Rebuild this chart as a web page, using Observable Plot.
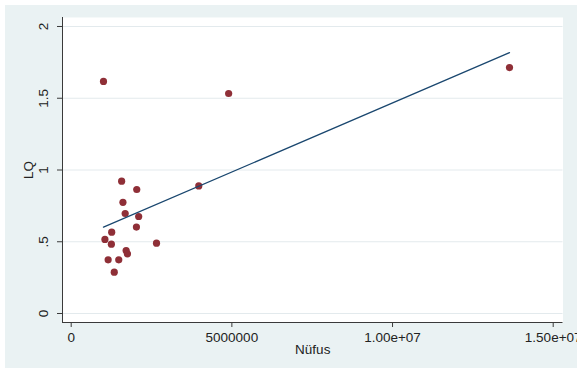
<!DOCTYPE html>
<html>
<head>
<meta charset="utf-8">
<script src="https://cdn.jsdelivr.net/npm/d3@7"></script>
<script src="https://cdn.jsdelivr.net/npm/@observablehq/plot@0.6"></script>
<style>
  html, body { margin: 0; padding: 0; background: white; }
  #wrap { width: 580px; height: 369px; box-sizing: border-box; padding: 5px 0 0 5px; background: white; }
  #wrap svg { display: block; }
</style>
</head>
<body>
<div id="wrap"></div>
<script>
// Data
const nufus = [1005000, 4900000, 13640000, 3970000, 1570000, 2040000, 1610000, 1680000, 2100000, 2030000, 1260000, 1050000, 1250000, 2655000, 1710000, 1750000, 1150000, 1480000, 1340000];
const lq = [1.617, 1.533, 1.714, 0.889, 0.922, 0.864, 0.775, 0.697, 0.676, 0.602, 0.567, 0.516, 0.483, 0.490, 0.439, 0.416, 0.374, 0.374, 0.288];

const xTicks = [0, 5000000, 10000000, 15000000];
const xTickLabels = ["0", "5000000", "1.00e+07", "1.50e+07"];
const yTicks = [0, 0.5, 1, 1.5, 2];
const yTickLabels = ["0", ".5", "1", "1.5", "2"];
const xTitle = "Nüfus";
const yTitle = "LQ";

const data = nufus.map((x, i) => ({x, y: lq[i]}));

const xDomain = [-270700, 15305000];
const yDomain = [-0.0627, 2.0627];

const font = "'Liberation Sans', Arial, Helvetica, sans-serif";
const axisColor = "#3a3a3a";

const chart = Plot.plot({
  width: 572,
  height: 363,
  marginLeft: 57,
  marginRight: 14.5,
  marginTop: 12,
  marginBottom: 46,
  x: {domain: xDomain},
  y: {domain: yDomain},
  style: {background: "#eaf2f3", fontFamily: font, fontSize: "13.5px", color: "#222"},
  marks: [
    Plot.frame({fill: "white", stroke: null}),
    Plot.gridY(yTicks, {stroke: "#e3eaed", strokeOpacity: 1, strokeWidth: 1}),
    Plot.dot(data, {x: "x", y: "y", r: 3.6, fill: "#8f2f37", stroke: null}),
    Plot.linearRegressionY(data, {x: "x", y: "y", stroke: "#1a476f", strokeWidth: 1.3, ci: 0}),
    Plot.ruleX([xDomain[0]], {stroke: axisColor, strokeWidth: 1}),
    Plot.ruleY([yDomain[0]], {stroke: axisColor, strokeWidth: 1}),
    Plot.axisY(yTicks, {tickSize: 5, tickFormat: () => "", label: null, stroke: axisColor}),
    Plot.text(yTicks, {y: d => d, text: (d, i) => yTickLabels[i], frameAnchor: "left", dx: -19, rotate: -90, textAnchor: "middle", lineAnchor: "middle", fill: "#222"}),
    Plot.axisX(xTicks, {tickSize: 5, tickFormat: () => "", label: null, stroke: axisColor}),
    Plot.text(xTicks, {x: d => d, text: (d, i) => xTickLabels[i], frameAnchor: "bottom", dy: 15, textAnchor: "middle", lineAnchor: "middle", fill: "#222"}),
    Plot.text([yTitle], {text: d => d, frameAnchor: "left", dx: -34, rotate: -90, textAnchor: "middle", lineAnchor: "middle", fill: "#222"}),
    Plot.text([xTitle], {text: d => d, frameAnchor: "bottom", dy: 27, textAnchor: "middle", lineAnchor: "middle", fill: "#222"})
  ]
});
document.getElementById("wrap").appendChild(chart);
</script>
</body>
</html>
